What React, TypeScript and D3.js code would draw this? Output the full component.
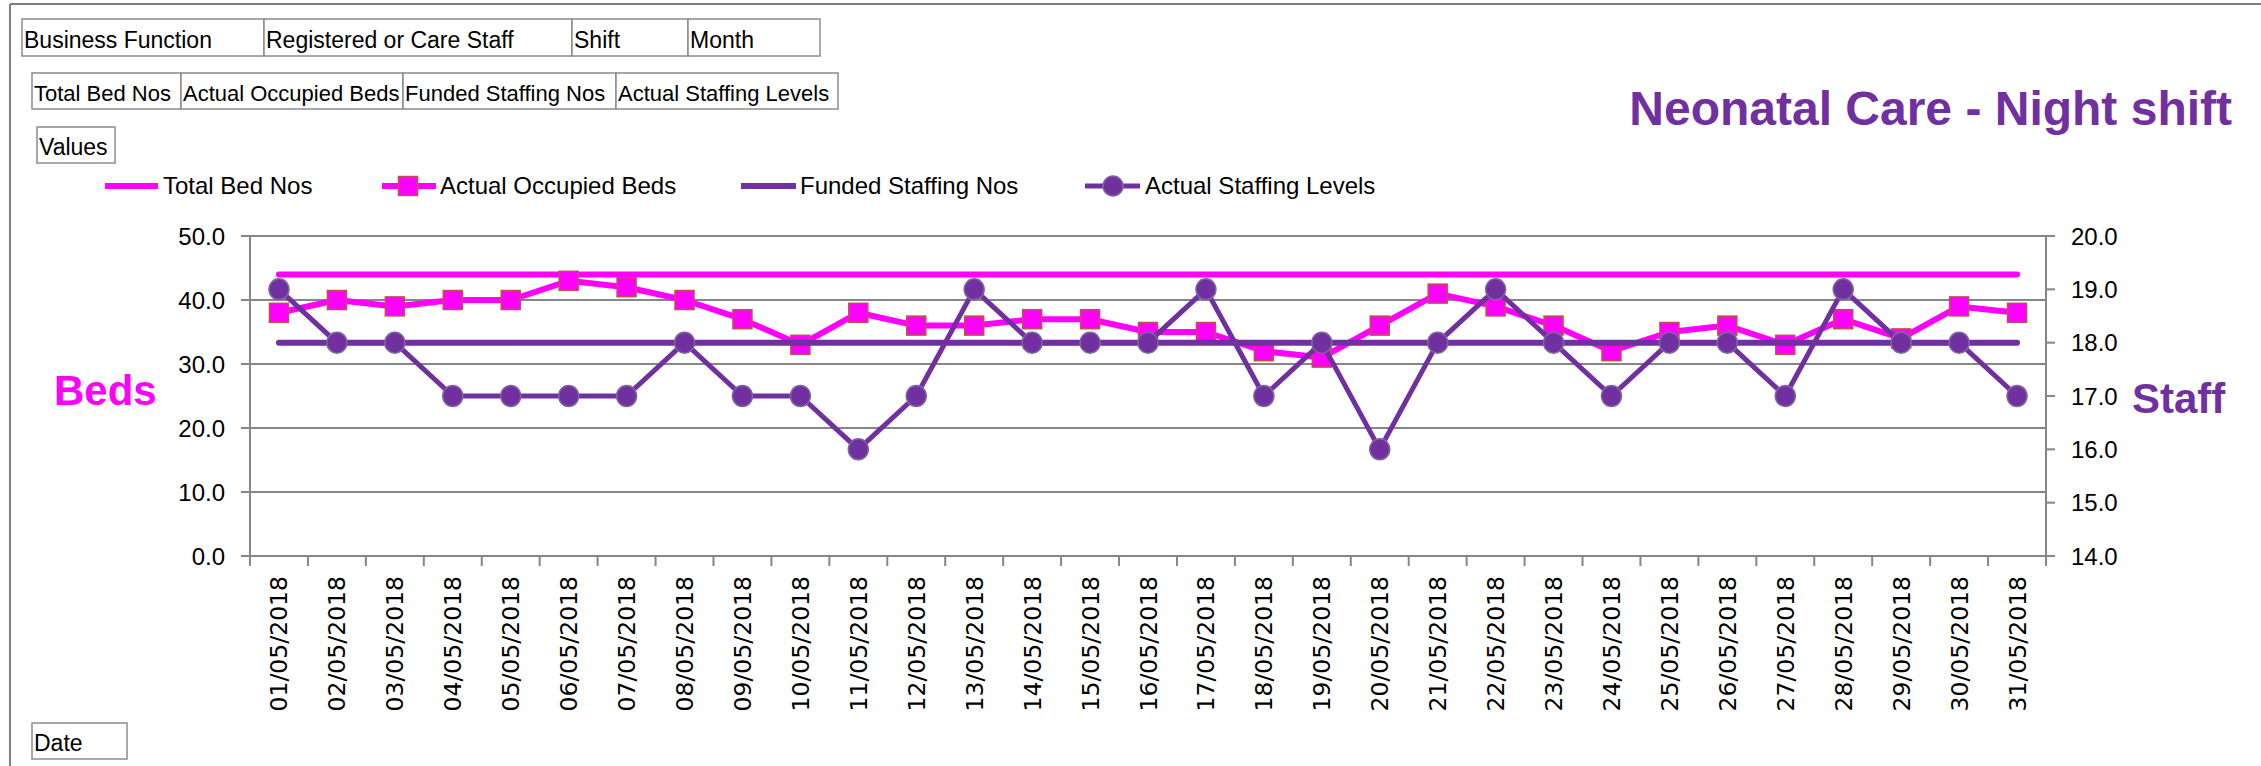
import React from "react";
import * as d3 from "d3";

// pivot chart values, May 2018 night shift
const dates = [
  "01/05/2018", "02/05/2018", "03/05/2018", "04/05/2018", "05/05/2018", "06/05/2018",
  "07/05/2018", "08/05/2018", "09/05/2018", "10/05/2018", "11/05/2018", "12/05/2018",
  "13/05/2018", "14/05/2018", "15/05/2018", "16/05/2018", "17/05/2018", "18/05/2018",
  "19/05/2018", "20/05/2018", "21/05/2018", "22/05/2018", "23/05/2018", "24/05/2018",
  "25/05/2018", "26/05/2018", "27/05/2018", "28/05/2018", "29/05/2018", "30/05/2018",
  "31/05/2018",
];
const totalBedNos = [44, 44, 44, 44, 44, 44, 44, 44, 44, 44, 44, 44, 44, 44, 44, 44, 44, 44, 44, 44, 44, 44, 44, 44, 44, 44, 44, 44, 44, 44, 44];
const actualOccupiedBeds = [38, 40, 39, 40, 40, 43, 42, 40, 37, 33, 38, 36, 36, 37, 37, 35, 35, 32, 31, 36, 41, 39, 36, 32, 35, 36, 33, 37, 34, 39, 38];
const fundedStaffingNos = [18, 18, 18, 18, 18, 18, 18, 18, 18, 18, 18, 18, 18, 18, 18, 18, 18, 18, 18, 18, 18, 18, 18, 18, 18, 18, 18, 18, 18, 18, 18];
const actualStaffingLevels = [19, 18, 18, 17, 17, 17, 17, 18, 17, 17, 16, 17, 19, 18, 18, 18, 19, 17, 18, 16, 18, 19, 18, 17, 18, 18, 17, 19, 18, 18, 17];

const bedTicks = [0, 10, 20, 30, 40, 50];
const staffTicks = [14, 15, 16, 17, 18, 19, 20];

const filterRow1 = ["Business Function", "Registered or Care Staff", "Shift", "Month"];
const filterRow2 = ["Total Bed Nos", "Actual Occupied Beds", "Funded Staffing Nos", "Actual Staffing Levels"];

const MAGENTA = "#FF00FF";
const PURPLE = "#7030A0";
const GRID = "#868686";
const FONT = "'Liberation Sans', Arial, sans-serif";

export default function App() {
  const width = 2261;
  const height = 766;
  const left = 250;
  const right = 2046;
  const top = 236;
  const bottom = 556;

  const x = d3.scaleBand<string>().domain(dates).range([left, right]);
  const cx = (d: string) => (x(d) as number) + x.bandwidth() / 2;
  const yBeds = d3.scaleLinear().domain([0, 50]).range([bottom, top]);
  const yStaff = d3.scaleLinear().domain([14, 20]).range([bottom, top]);

  const bedLine = d3
    .line<number>()
    .x((_, i) => cx(dates[i]))
    .y((v) => yBeds(v));
  const staffLine = d3
    .line<number>()
    .x((_, i) => cx(dates[i]))
    .y((v) => yStaff(v));

  // filter button boxes (pivot chart field buttons)
  const row1X = [22, 264, 572, 688, 820];
  const row2X = [32, 181, 403, 616, 838];

  return (
    <svg
      width={width}
      height={height}
      style={{ position: "absolute", left: 0, top: 0, display: "block", background: "#fff" }}
      fontFamily={FONT}
    >
      {/* chart area border */}
      <line x1={10} y1={4} x2={width} y2={4} stroke="#7f7f7f" strokeWidth={2} />
      <line x1={10} y1={4} x2={10} y2={height} stroke="#7f7f7f" strokeWidth={2} />

      {/* field buttons */}
      {filterRow1.map((t, i) => (
        <g key={t}>
          <rect x={row1X[i]} y={19} width={row1X[i + 1] - row1X[i]} height={37} fill="#fff" stroke="#8c8c8c" strokeWidth={1.5} />
          <text x={row1X[i] + 2} y={48} fontSize={23}>{t}</text>
        </g>
      ))}
      {filterRow2.map((t, i) => (
        <g key={t}>
          <rect x={row2X[i]} y={73} width={row2X[i + 1] - row2X[i]} height={36} fill="#fff" stroke="#8c8c8c" strokeWidth={1.5} />
          <text x={row2X[i] + 2} y={101} fontSize={22}>{t}</text>
        </g>
      ))}
      <rect x={37} y={127} width={78} height={36} fill="#fff" stroke="#8c8c8c" strokeWidth={1.5} />
      <text x={39} y={155} fontSize={23}>Values</text>
      <rect x={32} y={723} width={95} height={36} fill="#fff" stroke="#8c8c8c" strokeWidth={1.5} />
      <text x={34} y={751} fontSize={23}>Date</text>

      {/* title */}
      <text x={2232} y={125} textAnchor="end" fontSize={48} fontWeight="bold" fill={PURPLE}>
        Neonatal Care - Night shift
      </text>

      {/* legend */}
      <g fontSize={24}>
        <line x1={105} x2={158} y1={186} y2={186} stroke={MAGENTA} strokeWidth={6} />
        <text x={163} y={194}>Total Bed Nos</text>
        <line x1={382} x2={436} y1={186} y2={186} stroke={MAGENTA} strokeWidth={6} />
        <rect x={408 - 9.5} y={186 - 9.5} width={19} height={19} fill={MAGENTA} stroke="#C0504D" strokeWidth={1.5} />
        <text x={440} y={194}>Actual Occupied Beds</text>
        <line x1={741} x2={796} y1={186} y2={186} stroke={PURPLE} strokeWidth={6} />
        <text x={800} y={194}>Funded Staffing Nos</text>
        <line x1={1085} x2={1140} y1={186} y2={186} stroke={PURPLE} strokeWidth={5} />
        <circle cx={1113} cy={186} r={10} fill={PURPLE} stroke="#8064A2" strokeWidth={1.5} />
        <text x={1145} y={194}>Actual Staffing Levels</text>
      </g>

      {/* gridlines */}
      {bedTicks.map((t) => (
        <line key={"g" + t} x1={left} x2={right} y1={yBeds(t)} y2={yBeds(t)} stroke={GRID} strokeWidth={2} />
      ))}
      {/* left axis */}
      <line x1={left} x2={left} y1={top} y2={bottom} stroke={GRID} strokeWidth={2} />
      {bedTicks.map((t) => (
        <g key={"l" + t}>
          <line x1={left - 9} x2={left} y1={yBeds(t)} y2={yBeds(t)} stroke={GRID} strokeWidth={2} />
          <text x={225} y={yBeds(t) + 8.5} textAnchor="end" fontSize={24}>
            {d3.format(".1f")(t)}
          </text>
        </g>
      ))}
      {/* right axis */}
      <line x1={right} x2={right} y1={top} y2={bottom} stroke={GRID} strokeWidth={2} />
      {staffTicks.map((t) => (
        <g key={"r" + t}>
          <line x1={right} x2={right + 9} y1={yStaff(t)} y2={yStaff(t)} stroke={GRID} strokeWidth={2} />
          <text x={2071} y={yStaff(t) + 8.5} fontSize={24}>
            {d3.format(".1f")(t)}
          </text>
        </g>
      ))}
      {/* x axis ticks + labels */}
      {dates.map((d) => (
        <line key={"t" + d} x1={x(d) as number} x2={x(d) as number} y1={bottom} y2={bottom + 10} stroke={GRID} strokeWidth={2} />
      ))}
      <line x1={right} x2={right} y1={bottom} y2={bottom + 10} stroke={GRID} strokeWidth={2} />
      {dates.map((d) => (
        <text
          key={"x" + d}
          transform={`translate(${cx(d) + 8.5},${bottom + 20}) rotate(-90)`}
          textAnchor="end"
          fontSize={23.5}
          fontFamily="'DejaVu Sans', Verdana, sans-serif"
        >
          {d}
        </text>
      ))}

      {/* axis titles */}
      <text x={54} y={405} fontSize={42} fontWeight="bold" fill={MAGENTA}>Beds</text>
      <text x={2132} y={413} fontSize={42} fontWeight="bold" fill={PURPLE}>Staff</text>

      {/* series */}
      <path d={bedLine(totalBedNos) as string} fill="none" stroke={MAGENTA} strokeWidth={6} strokeLinecap="round" />
      <path d={bedLine(actualOccupiedBeds) as string} fill="none" stroke={MAGENTA} strokeWidth={6} strokeLinejoin="round" />
      {actualOccupiedBeds.map((v, i) => (
        <rect
          key={"s" + i}
          x={cx(dates[i]) - 9.5}
          y={yBeds(v) - 9.5}
          width={19}
          height={19}
          fill={MAGENTA}
          stroke="#C0504D"
          strokeWidth={1.5}
        />
      ))}
      <path d={staffLine(fundedStaffingNos) as string} fill="none" stroke={PURPLE} strokeWidth={6} strokeLinecap="round" />
      <path d={staffLine(actualStaffingLevels) as string} fill="none" stroke={PURPLE} strokeWidth={5} strokeLinejoin="round" />
      {actualStaffingLevels.map((v, i) => (
        <ellipse
          key={"c" + i}
          cx={cx(dates[i])}
          cy={yStaff(v)}
          rx={10}
          ry={10.5}
          fill={PURPLE}
          stroke="#8064A2"
          strokeWidth={1.5}
        />
      ))}
    </svg>
  );
}
